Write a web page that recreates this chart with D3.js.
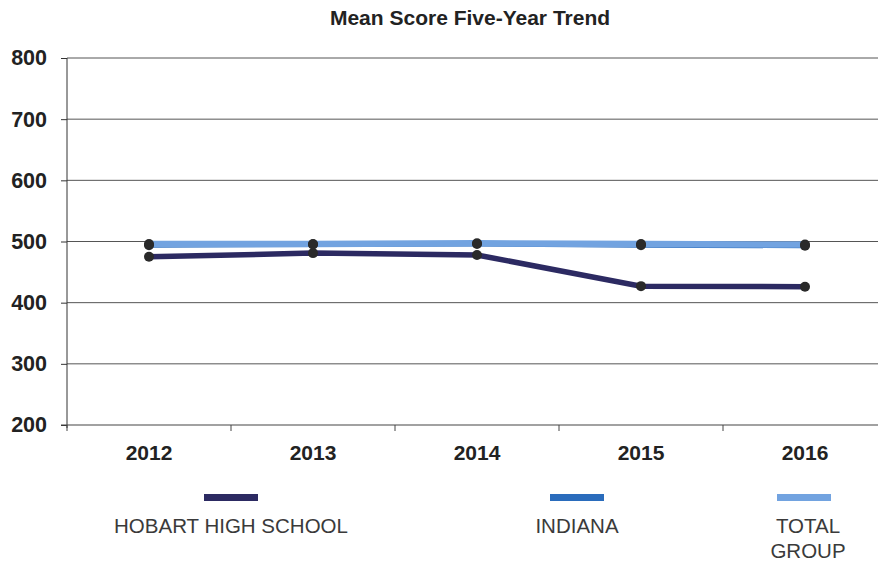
<!DOCTYPE html>
<html>
<head>
<meta charset="utf-8">
<script src="https://cdn.jsdelivr.net/npm/d3@7"></script>
<style>
  html, body { margin: 0; padding: 0; background: #fff; }
  svg { display: block; }
</style>
</head>
<body>
<svg id="chart" width="878" height="564"></svg>
<script>
const title = "Mean Score Five-Year Trend";
const years = ["2012", "2013", "2014", "2015", "2016"];
const yTicks = [200, 300, 400, 500, 600, 700, 800];
const hobart = [475, 481, 478, 427, 426];
const indiana = [494, 495, 496, 494, 493];
const totalGroup = [496, 496, 497, 496, 495];
const seriesNames = ["HOBART HIGH SCHOOL", "INDIANA", "TOTAL GROUP"];
const seriesColors = ["#2c2a62", "#2a6cbc", "#72a3e0"];

const svg = d3.select("#chart");
const FONT = "Liberation Sans, Arial, sans-serif";

const x = d3.scaleBand().domain(years).range([67, 887]);
const y = d3.scaleLinear().domain([200, 800]).range([425, 58]);

// title
svg.append("text")
  .attr("x", 470).attr("y", 25)
  .attr("text-anchor", "middle")
  .attr("font-family", FONT)
  .attr("font-weight", "bold").attr("font-size", 21)
  .attr("fill", "#222")
  .text(title);

// gridlines
svg.append("g").selectAll("line")
  .data(yTicks.filter(d => d !== 200))
  .join("line")
  .attr("x1", 67).attr("x2", 878)
  .attr("y1", d => y(d)).attr("y2", d => y(d))
  .attr("stroke", "#555").attr("stroke-width", 1);

// y axis
const yAxis = svg.append("g")
  .attr("transform", "translate(67,0)")
  .call(d3.axisLeft(y).tickValues(yTicks).tickSize(6).tickPadding(14).tickSizeOuter(0));
yAxis.select(".domain").attr("stroke", "#333").attr("d", `M0,${y(800)}V${y(200) + 3}`);
yAxis.selectAll(".tick line").attr("stroke", "#333");
yAxis.selectAll("text")
  .attr("font-family", FONT)
  .attr("font-weight", "bold").attr("font-size", 21.5)
  .attr("fill", "#222");

// x axis
const xAxis = svg.append("g")
  .attr("transform", `translate(0,${y(200)})`)
  .call(d3.axisBottom(x).tickSize(0).tickPadding(20));
xAxis.select(".domain").remove();
xAxis.append("line").attr("x1", 61).attr("x2", 878).attr("y1", 0).attr("y2", 0)
  .attr("stroke", "#444").attr("stroke-width", 1.2);
xAxis.selectAll(".sep")
  .data(years)
  .join("line")
  .attr("class", "sep")
  .attr("x1", d => x(d)).attr("x2", d => x(d))
  .attr("y1", 0).attr("y2", 6)
  .attr("stroke", "#444");
xAxis.selectAll("text")
  .attr("font-family", FONT)
  .attr("font-weight", "bold").attr("font-size", 21)
  .attr("fill", "#222");

const cx = d => x(d) + x.bandwidth() / 2;
const lineGen = d3.line().x((d, i) => cx(years[i])).y(d => y(d));

const series = [
  { name: seriesNames[0], values: hobart, color: seriesColors[0], w: 5.5 },
  { name: seriesNames[1], values: indiana, color: seriesColors[1], w: 5 },
  { name: seriesNames[2], values: totalGroup, color: seriesColors[2], w: 6.5 }
];

series.forEach(s => {
  svg.append("path")
    .datum(s.values)
    .attr("d", lineGen)
    .attr("fill", "none")
    .attr("stroke", s.color)
    .attr("stroke-width", s.w);
});

series.forEach(s => {
  svg.append("g").selectAll("circle")
    .data(s.values)
    .join("circle")
    .attr("cx", (d, i) => cx(years[i]))
    .attr("cy", d => y(d))
    .attr("r", 5)
    .attr("fill", "#2a2a2a");
});

// legend
const legend = [
  { name: ["HOBART HIGH SCHOOL"], color: seriesColors[0], cx: 231 },
  { name: ["INDIANA"], color: seriesColors[1], cx: 577 },
  { name: ["TOTAL", "GROUP"], color: seriesColors[2], cx: 804 }
];
const lg = svg.append("g");
legend.forEach(l => {
  lg.append("rect")
    .attr("x", l.cx - 27).attr("y", 494)
    .attr("width", 54).attr("height", 7)
    .attr("fill", l.color);
  l.name.forEach((t, i) => {
    lg.append("text")
      .attr("x", l.name.length > 1 ? l.cx + 4 : l.cx)
      .attr("y", 533 + i * 25)
      .attr("text-anchor", "middle")
      .attr("font-family", FONT)
      .attr("font-size", 20.5)
      .attr("fill", "#3a3a3a")
      .text(t);
  });
});
</script>
</body>
</html>
